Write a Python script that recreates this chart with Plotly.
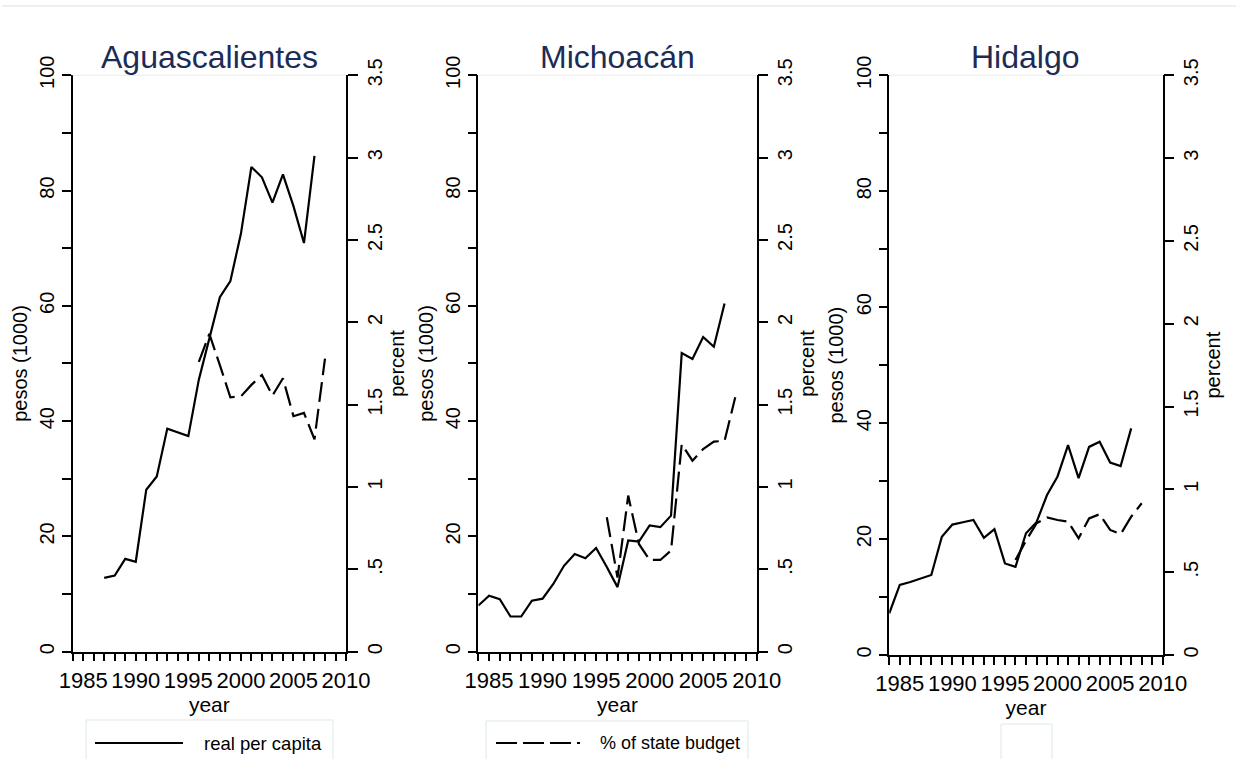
import plotly.graph_objects as go

# ---------------- data ----------------
states = ["Aguascalientes", "Michoacán", "Hidalgo"]

agu_years = list(range(1987, 2008))
agu_pesos = [12.8, 13.2, 16.1, 15.6, 28.1, 30.4, 38.7, 38.0, 37.4, 47.2, 54.6,
             61.5, 64.3, 72.5, 84.1, 82.3, 77.9, 82.8, 77.3, 70.9, 86.0]
agu_pct_years = list(range(1996, 2009))
agu_pct = [1.76, 1.93, 1.74, 1.545, 1.55, 1.62, 1.68, 1.555, 1.66, 1.43, 1.45, 1.29, 1.78]

mich_years = list(range(1984, 2008))
mich_pesos = [8.0, 9.7, 9.1, 6.1, 6.1, 8.85, 9.2, 11.75, 14.9, 16.95, 16.2, 18.0,
              14.7, 11.2, 19.3, 19.1, 21.9, 21.6, 23.6, 51.8, 50.8, 54.6, 52.9, 60.4]
mich_pct_years = list(range(1996, 2009))
mich_pct = [0.816, 0.45, 0.948, 0.654, 0.557, 0.557, 0.614, 1.26, 1.16, 1.23, 1.276, 1.28, 1.545]

hid_years = list(range(1984, 2008))
hid_pesos = [7.2, 12.1, 12.6, 13.2, 13.8, 20.4, 22.5, 22.9, 23.3, 20.2, 21.7, 15.8,
             15.2, 21.0, 22.9, 27.6, 30.8, 36.2, 30.5, 35.9, 36.8, 33.2, 32.6, 39.1]
hid_pct_years = list(range(1996, 2009))
hid_pct = [0.574, 0.69, 0.795, 0.83, 0.815, 0.805, 0.705, 0.825, 0.85, 0.755, 0.73, 0.835, 0.916]

series_names = ["real per capita", "% of state budget"]

left_ticks = [0, 20, 40, 60, 80, 100]
left_minor = [10, 30, 50, 70, 90]
right_ticks = [0, 0.5, 1, 1.5, 2, 2.5, 3, 3.5]
right_text = ["0", ".5", "1", "1.5", "2", "2.5", "3", "3.5"]
x_ticks = [1985, 1990, 1995, 2000, 2005, 2010]
x_minor = list(range(1984, 2011))

# ---------------- layout geometry ----------------
W, H = 1238, 759
FONT = "Liberation Sans, Arial, sans-serif"
TITLE_COLOR = "#1c2c55"
DASH = "20px,7px"

x_domains = [[0.0587, 0.2795], [0.3864, 0.6112], [0.7183, 0.9392]]
y_domains = [[0.1414, 0.9008], [0.1414, 0.9008], [0.137, 0.9008]]

panels = [
    (agu_years, agu_pesos, agu_pct_years, agu_pct),
    (mich_years, mich_pesos, mich_pct_years, mich_pct),
    (hid_years, hid_pesos, hid_pct_years, hid_pct),
]

fig = go.Figure()
layout = {}
for i, (yrs, pesos, pyrs, pct) in enumerate(panels):
    xn = "" if i == 0 else str(i + 1)
    yl = "" if i == 0 else str(2 * i + 1)
    yr = str(2 * i + 2)
    fig.add_trace(go.Scatter(x=yrs, y=pesos, mode="lines", name=series_names[0],
                             line=dict(color="black", width=2.2),
                             xaxis="x" + xn, yaxis="y" + yl, showlegend=False))
    fig.add_trace(go.Scatter(x=pyrs, y=pct, mode="lines", name=series_names[1],
                             line=dict(color="black", width=2.2, dash=DASH),
                             xaxis="x" + xn, yaxis="y" + yr, showlegend=False))

    layout["xaxis" + xn] = dict(
        domain=x_domains[i], anchor="y" + yl, range=[1984, 2010], automargin=False,
        tickvals=x_ticks, ticks="outside", ticklen=8, tickwidth=1.5, tickcolor="black",
        minor=dict(tickvals=x_minor, ticks="outside", ticklen=8, tickwidth=1.5, tickcolor="black"),
        showline=True, linecolor="black", linewidth=1.5, showgrid=False, zeroline=False,
        tickfont=dict(family=FONT, size=22, color="black"),
        title=dict(text="year", font=dict(family=FONT, size=21, color="black"), standoff=0),
        fixedrange=True)
    layout["yaxis" + yl] = dict(
        domain=y_domains[i], anchor="x" + xn, range=[0, 100], automargin=False,
        tickvals=left_ticks, ticks="outside", ticklen=9, tickwidth=1.5, tickcolor="black",
        minor=dict(tickvals=left_minor, ticks="outside", ticklen=9, tickwidth=1.5, tickcolor="black"),
        showline=True, linecolor="black", linewidth=1.5, showgrid=False, zeroline=False,
        tickangle=-90, tickfont=dict(family=FONT, size=20, color="black"),
        title=dict(text="pesos (1000)", font=dict(family=FONT, size=20, color="black"), standoff=3),
        fixedrange=True)
    layout["yaxis" + yr] = dict(
        domain=y_domains[i], anchor="x" + xn, overlaying="y" + yl, side="right",
        range=[0, 3.5], tickvals=right_ticks, ticktext=right_text, automargin=False,
        ticks="outside", ticklen=10, tickwidth=1.5, tickcolor="black",
        showline=True, linecolor="black", linewidth=1.5, showgrid=False, zeroline=False,
        tickangle=-90, tickfont=dict(family=FONT, size=20, color="black"),
        title=dict(text="percent", font=dict(family=FONT, size=20, color="black"), standoff=3),
        fixedrange=True)

annotations = []
shapes = []
for i, name in enumerate(states):
    xc = (x_domains[i][0] + x_domains[i][1]) / 2
    annotations.append(dict(text=name, x=xc, y=1 - 57 / H, xref="paper", yref="paper",
                            xanchor="center", yanchor="middle", showarrow=False,
                            font=dict(family=FONT, size=32, color=TITLE_COLOR)))
    shapes.append(dict(type="line", xref="paper", yref="paper",
                       x0=x_domains[i][0], x1=x_domains[i][1],
                       y0=y_domains[i][1], y1=y_domains[i][1],
                       line=dict(color="#e6eeee", width=1)))

shapes.append(dict(type="line", xref="paper", yref="paper", x0=2 / W, x1=1236 / W,
                   y0=1 - 6 / H, y1=1 - 6 / H, line=dict(color="#e3ecec", width=1.5)))

BOX = "#dde9ea"
def px(x):
    return x / W
def py(y):
    return 1 - y / H

# legend boxes (one per panel, as in the original small multiples)
shapes.append(dict(type="rect", xref="paper", yref="paper", x0=px(86), x1=px(333),
                   y0=py(775), y1=py(720), line=dict(color=BOX, width=1), fillcolor="white", layer="below"))
shapes.append(dict(type="line", xref="paper", yref="paper", x0=px(95), x1=px(183),
                   y0=py(743), y1=py(743), line=dict(color="black", width=2)))
annotations.append(dict(text=series_names[0], x=px(202), y=py(743), xref="paper", yref="paper",
                        xanchor="left", yanchor="middle", showarrow=False,
                        font=dict(family=FONT, size=18.5, color="black")))
shapes.append(dict(type="rect", xref="paper", yref="paper", x0=px(486), x1=px(748),
                   y0=py(775), y1=py(721), line=dict(color=BOX, width=1), fillcolor="white", layer="below"))
shapes.append(dict(type="line", xref="paper", yref="paper", x0=px(496), x1=px(580),
                   y0=py(743), y1=py(743), line=dict(color="black", width=2, dash="21px,6px")))
annotations.append(dict(text=series_names[1], x=px(598), y=py(743), xref="paper", yref="paper",
                        xanchor="left", yanchor="middle", showarrow=False,
                        font=dict(family=FONT, size=18, color="black")))
shapes.append(dict(type="rect", xref="paper", yref="paper", x0=px(1001), x1=px(1052),
                   y0=py(775), y1=py(724), line=dict(color=BOX, width=1), fillcolor="white", layer="below"))

fig.update_layout(
    template="none",
    width=W, height=H,
    margin=dict(l=0, r=0, t=0, b=0, autoexpand=False),
    paper_bgcolor="white", plot_bgcolor="rgba(0,0,0,0)",
    showlegend=False,
    annotations=annotations, shapes=shapes,
    **layout)

fig.write_html("out.html")
